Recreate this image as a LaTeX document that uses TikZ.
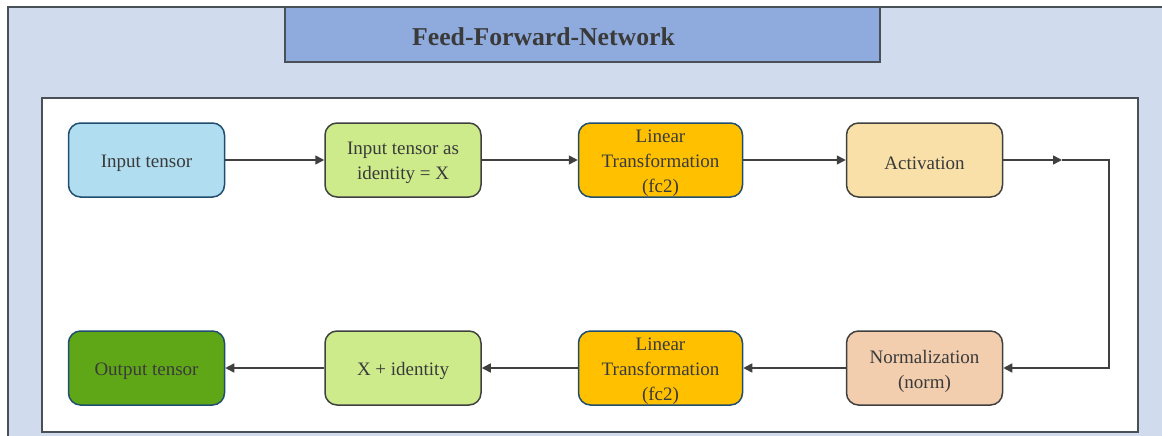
\documentclass[tikz,border=0pt]{standalone}
\usepackage{fontspec}
\setmainfont{Liberation Serif}
\usetikzlibrary{arrows.meta}
\definecolor{outerbg}{HTML}{D0DBEE}
\definecolor{titlebg}{HTML}{8FAADC}
\definecolor{frame}{HTML}{4A5058}
\definecolor{txt}{HTML}{3A3A3A}
\definecolor{teal}{HTML}{1F4E6E}
\definecolor{greybd}{HTML}{404040}
\definecolor{cinput}{HTML}{B0DDF0}
\definecolor{cgreen}{HTML}{CDEB8B}
\definecolor{clin}{HTML}{FFC000}
\definecolor{cact}{HTML}{F8E0A8}
\definecolor{cnorm}{HTML}{F2CDAE}
\definecolor{cout}{HTML}{60A717}
\tikzset{
  box/.style={draw, rounded corners=12pt, line width=1.5pt, minimum width=156pt,
    minimum height=74pt, inner sep=0pt},
  lbl/.style={align=center, text=txt, yshift=-3pt, inner sep=0pt,
    font=\fontsize{19}{25}\selectfont},
  tealbox/.style={box, draw=teal},
  greybox/.style={box, draw=greybd},
  conn/.style={draw=greybd, line width=1.6pt, -{Triangle[length=9pt,width=9pt]}},
}
\begin{document}
\begin{tikzpicture}[x=1pt,y=-1pt]
\useasboundingbox (0,0) rectangle (1162,436);
\begin{scope}
\clip (0,0) rectangle (1162,436);
\draw[fill=outerbg, draw=frame, line width=1.5pt] (8,7) rectangle (1175,450);
\end{scope}
\node[draw=frame, fill=titlebg, line width=1.5pt, minimum width=595pt, minimum height=55pt, inner sep=0pt,
  label={[text=txt, font=\fontsize{25.7}{30}\selectfont\bfseries, xshift=-39pt, yshift=-2pt]center:Feed-Forward-Network}] (title) at (582.5,34.5) {};
\node[draw=frame, fill=white, line width=1.5pt, minimum width=1096pt, minimum height=334pt, inner sep=0pt] (inner) at (590,265) {};
\node[tealbox, fill=cinput, label={[lbl]center:Input tensor}] (in) at (146.5,160) {};
\node[greybox, fill=cgreen, label={[lbl]center:Input tensor as\\identity = X}] (id) at (403,160) {};
\node[tealbox, fill=clin, minimum width=164pt, label={[lbl]center:Linear\\Transformation\\(fc2)}] (lin1) at (660.5,160) {};
\node[greybox, fill=cact, label={[lbl]center:Activation}] (act) at (924.5,160) {};
\node[greybox, fill=cnorm, label={[lbl]center:Normalization\\(norm)}] (norm) at (924.5,368) {};
\node[tealbox, fill=clin, minimum width=164pt, label={[lbl]center:Linear\\Transformation\\(fc2)}] (lin2) at (660.5,368) {};
\node[greybox, fill=cgreen, label={[lbl]center:X + identity}] (add) at (403,368) {};
\node[tealbox, fill=cout, label={[lbl]center:Output tensor}] (out) at (146.5,368) {};
\coordinate (mid) at (1062,160);
\coordinate (c1) at (1109,160);
\coordinate (c2) at (1109,368);
\draw[conn] (in) -- (id);
\draw[conn] (id) -- (lin1);
\draw[conn] (lin1) -- (act);
\draw[conn] (act) -- (mid);
\draw[conn] (mid) -- (c1) -- (c2) -- (norm);
\draw[conn] (norm) -- (lin2);
\draw[conn] (lin2) -- (add);
\draw[conn] (add) -- (out);
\end{tikzpicture}
\end{document}
